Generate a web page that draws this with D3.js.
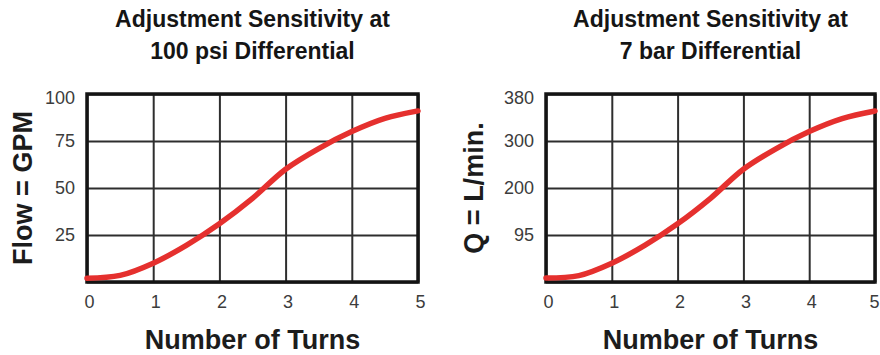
<!DOCTYPE html>
<html>
<head>
<meta charset="utf-8">
<script src="https://cdn.jsdelivr.net/npm/d3@7"></script>
<style>
  html, body { margin: 0; padding: 0; background: #fff; }
  svg { display: block; }
  .title { font-family: "Liberation Sans", Arial, sans-serif; font-weight: bold; font-size: 23px; fill: #151515; }
  .axis-title { font-family: "Liberation Sans", Arial, sans-serif; font-weight: bold; font-size: 27px; fill: #1c1c1c; }
  .tick text { font-family: "Liberation Sans", Arial, sans-serif; font-size: 18px; fill: #3c3c3c; }
</style>
</head>
<body>
<svg id="chart" width="880" height="355"></svg>
<script>
// Turns of the adjustment screw
const turns = [0, 0.5, 1, 1.5, 2, 2.5, 3, 3.5, 4, 4.5, 5];
const turnTicks = [0, 1, 2, 3, 4, 5];

// Flow in US gallons per minute at 100 psi differential
const flowGPM = [2, 3.5, 10, 19.5, 31, 44.5, 60, 71, 80, 87, 91];
const gpmTicks = [0, 25, 50, 75, 100];
const gpmLabels = ["", "25", "50", "75", "100"];

// Flow in litres per minute at 7 bar differential
const flowLPM = [8, 13, 38, 74, 120, 177, 240, 284, 316, 338, 351];
const lpmTicks = [0, 95, 200, 300, 380];
const lpmLabels = ["", "95", "200", "300", "380"];

const panels = [
  {
    titleLines: ["Adjustment Sensitivity at", "100 psi Differential"],
    yTitle: "Flow = GPM",
    values: flowGPM, ticks: gpmTicks, labels: gpmLabels,
    left: 87, right: 418, yTitleX: 32
  },
  {
    titleLines: ["Adjustment Sensitivity at", "7 bar Differential"],
    yTitle: "Q = L/min.",
    values: flowLPM, ticks: lpmTicks, labels: lpmLabels,
    left: 546, right: 875, yTitleX: 483
  }
];

const plotTop = 94, plotBottom = 282;
const svg = d3.select("#chart");

panels.forEach((p, pi) => {
  const w = p.right - p.left, h = plotBottom - plotTop;
  const g = svg.append("g").attr("transform", `translate(${p.left},${plotTop})`);

  const x = d3.scaleLinear().domain([0, 5]).range([0, w]);
  // grid rows are evenly spaced, so the flow scale is piecewise linear between tick values
  const y = d3.scaleLinear().domain(p.ticks)
    .range(p.ticks.map((_, i) => h - i * h / (p.ticks.length - 1)));

  // vertical grid + turn labels
  const xAxis = g.append("g").attr("transform", `translate(0,${h})`)
    .call(d3.axisBottom(x).tickValues(turnTicks).tickFormat(d3.format("d"))
      .tickSizeInner(-h).tickSizeOuter(0).tickPadding(13));
  xAxis.select(".domain").remove();
  xAxis.selectAll(".tick line").attr("stroke", "#2e2e2e").attr("stroke-width", 2);
  xAxis.selectAll(".tick text").attr("dx", (d) => (pi === 1 && d === 5) ? -1 : 2);

  // horizontal grid + flow labels
  const yAxis = g.append("g")
    .call(d3.axisLeft(y).tickValues(p.ticks).tickFormat((d, i) => p.labels[i])
      .tickSizeInner(-w).tickSizeOuter(0).tickPadding(12));
  yAxis.select(".domain").remove();
  yAxis.selectAll(".tick line").attr("stroke", "#2e2e2e").attr("stroke-width", 2);
  yAxis.selectAll(".tick text").attr("dy", (d, i) => i === p.ticks.length - 1 ? "0.5em" : "0.32em");

  // frame
  g.append("rect").attr("x", 0).attr("y", 0).attr("width", w).attr("height", h)
    .attr("fill", "none").attr("stroke", "#141414").attr("stroke-width", 3.5);

  // flow curve
  const line = d3.line().x((d, i) => x(turns[i])).y(d => y(d)).curve(d3.curveCatmullRom.alpha(0.5));
  g.append("path").datum(p.values).attr("d", line)
    .attr("fill", "none").attr("stroke", "#e5302e").attr("stroke-width", 5.5)
    .attr("stroke-linecap", "round").attr("stroke-linejoin", "round");

  // titles
  const cx = p.left + w / 2;
  svg.append("text").attr("class", "title").attr("x", cx).attr("y", 27)
    .attr("text-anchor", "middle").text(p.titleLines[0]);
  svg.append("text").attr("class", "title").attr("x", cx).attr("y", 59)
    .attr("text-anchor", "middle").text(p.titleLines[1]);

  svg.append("text").attr("class", "axis-title").attr("x", cx).attr("y", 349)
    .attr("text-anchor", "middle").text("Number of Turns");

  svg.append("text").attr("class", "axis-title")
    .attr("transform", `translate(${p.yTitleX},${plotTop + h / 2}) rotate(-90)`)
    .attr("text-anchor", "middle").text(p.yTitle);
});
</script>
</body>
</html>
